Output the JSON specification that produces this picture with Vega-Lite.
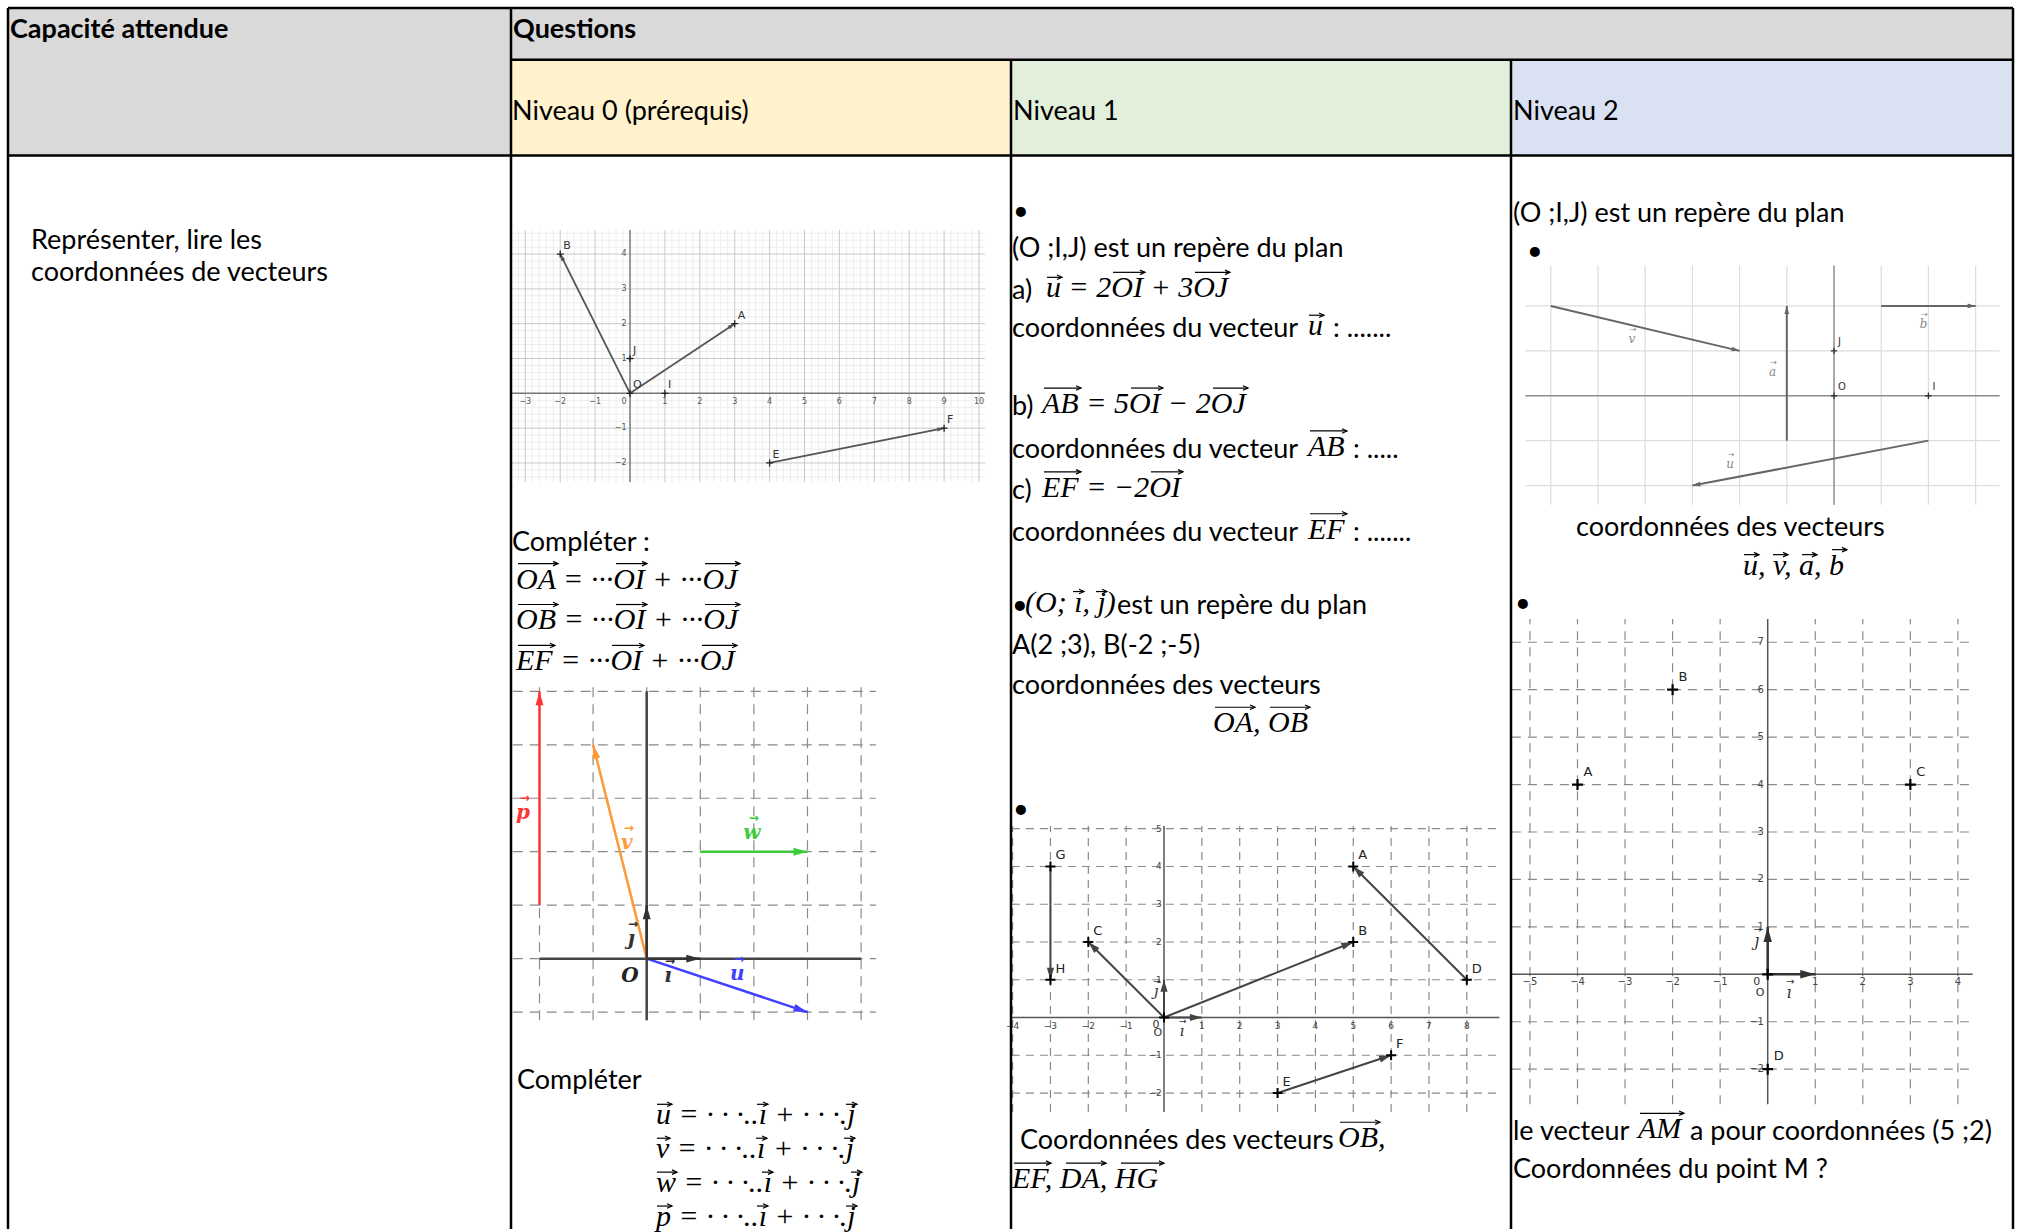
{
"$schema":"https://vega.github.io/schema/vega-lite/v6.json",
"width":2017,"height":1232,
"autosize":{"type":"fit","contains":"padding"},
"padding":0,
"background":"white",
"config":{"view":{"stroke":null},"text":{"baseline":"middle","align":"left"}},
"datasets":{
"cells":[{"x":8,"x2":511,"y":8,"y2":156,"part":"head"},{"x":511,"x2":2013,"y":8,"y2":60,"part":"head"},{"x":511,"x2":1011,"y":60,"y2":156,"part":"n0"},{"x":1011,"x2":1511,"y":60,"y2":156,"part":"n1"},{"x":1511,"x2":2013,"y":60,"y2":156,"part":"n2"}],
"borders":[{"x":8,"y":8,"x2":2013,"y2":8},{"x":511,"y":60,"x2":2013,"y2":60},{"x":8,"y":156,"x2":2013,"y2":156},{"x":8,"y":8,"x2":8,"y2":1232},{"x":511,"y":8,"x2":511,"y2":1232},{"x":1011,"y":60,"x2":1011,"y2":1232},{"x":1511,"y":60,"x2":1511,"y2":1232},{"x":2013,"y":8,"x2":2013,"y2":1232}],
"bold":[{"x":10,"y":27,"t":"Capacité attendue"},{"x":513,"y":27,"t":"Questions"}],
"txt":[
{"x":31,"y":239,"t":"Représenter, lire les"},
{"x":31,"y":271,"t":"coordonnées de vecteurs"},
{"x":512,"y":109,"t":"Niveau 0 (prérequis)"},
{"x":1013,"y":109,"t":"Niveau 1"},
{"x":1513,"y":109,"t":"Niveau 2"},
{"x":512,"y":541,"t":"Compléter :"},
{"x":517,"y":1081,"t":"Compléter"},
{"x":1013,"y":210,"t":"•"},
{"x":1012,"y":247,"t":"(O ;I,J) est un repère du plan"},
{"x":1012,"y":289,"t":"a)"},
{"x":1012,"y":327,"t":"coordonnées du vecteur"},
{"x":1333,"y":327,"t":": ......."},
{"x":1012,"y":405,"t":"b)"},
{"x":1012,"y":448,"t":"coordonnées du vecteur"},
{"x":1353,"y":448,"t":": ....."},
{"x":1012,"y":489,"t":"c)"},
{"x":1012,"y":531,"t":"coordonnées du vecteur"},
{"x":1353,"y":531,"t":": ......."},
{"x":1012,"y":604,"t":"•"},
{"x":1117,"y":604,"t":"est un repère du plan"},
{"x":1012,"y":645,"t":"A(2 ;3), B(-2 ;-5)"},
{"x":1012,"y":685,"t":"coordonnées des vecteurs"},
{"x":1013,"y":809,"t":"•"},
{"x":1020,"y":1141,"t":"Coordonnées des vecteurs"},
{"x":1513,"y":212,"t":"(O ;I,J) est un repère du plan"},
{"x":1527,"y":250,"t":"•"},
{"x":1576,"y":526,"t":"coordonnées des vecteurs"},
{"x":1515,"y":602,"t":"•"},
{"x":1513,"y":1132,"t":"le vecteur"},
{"x":1690,"y":1132,"t":"a pour coordonnées (5 ;2)"},
{"x":1513,"y":1170,"t":"Coordonnées du point M ?"}],
"math":[
{"x":516,"y":581,"t":"OA = ···OI + ···OJ"},
{"x":516,"y":622,"t":"OB = ···OI + ···OJ"},
{"x":516,"y":663,"t":"EF = ···OI + ···OJ"},
{"x":656,"y":1118,"t":"u = · · ·..ı + · · ·.j"},
{"x":656,"y":1152,"t":"v = · · ·..ı + · · ·.j"},
{"x":656,"y":1186,"t":"w = · · ·..ı + · · ·.j"},
{"x":656,"y":1220,"t":"p = · · ·..ı + · · ·.j"},
{"x":1046,"y":289,"t":"u = 2OI + 3OJ"},
{"x":1308,"y":327,"t":"u"},
{"x":1042,"y":405,"t":"AB = 5OI − 2OJ"},
{"x":1308,"y":448,"t":"AB"},
{"x":1042,"y":489,"t":"EF = −2OI"},
{"x":1308,"y":531,"t":"EF"},
{"x":1025,"y":604,"t":"(O; ı, j)"},
{"x":1213,"y":725,"t":"OA, OB"},
{"x":1338,"y":1141,"t":"OB,"},
{"x":1012,"y":1182,"t":"EF, DA, HG"},
{"x":1743,"y":567,"t":"u, v, a, b"},
{"x":1638,"y":1132,"t":"AM"}],
"ovec":[
{"x":518,"x2":558,"y":565},{"x":616,"x2":647,"y":565},{"x":705,"x2":740,"y":565},
{"x":518,"x2":558,"y":606},{"x":616,"x2":647,"y":606},{"x":705,"x2":740,"y":606},
{"x":518,"x2":555,"y":647},{"x":612,"x2":644,"y":647},{"x":702,"x2":737,"y":647},
{"x":657,"x2":672,"y":1107},{"x":757,"x2":768,"y":1107},{"x":846,"x2":857,"y":1107},
{"x":657,"x2":670,"y":1141},{"x":756,"x2":767,"y":1141},{"x":844,"x2":855,"y":1141},
{"x":657,"x2":677,"y":1175},{"x":762,"x2":773,"y":1175},{"x":851,"x2":862,"y":1175},
{"x":657,"x2":672,"y":1209},{"x":757,"x2":768,"y":1209},{"x":846,"x2":857,"y":1209},
{"x":1047,"x2":1062,"y":278},{"x":1113,"x2":1145,"y":273},{"x":1195,"x2":1230,"y":273},
{"x":1309,"x2":1324,"y":316},
{"x":1044,"x2":1081,"y":389},{"x":1131,"x2":1163,"y":389},{"x":1213,"x2":1248,"y":389},
{"x":1310,"x2":1347,"y":432},
{"x":1044,"x2":1081,"y":473},{"x":1151,"x2":1183,"y":473},
{"x":1310,"x2":1347,"y":515},
{"x":1073,"x2":1084,"y":593},{"x":1096,"x2":1107,"y":593},
{"x":1215,"x2":1255,"y":709},{"x":1270,"x2":1310,"y":709},
{"x":1340,"x2":1380,"y":1125},
{"x":1014,"x2":1051,"y":1166},{"x":1066,"x2":1106,"y":1166},{"x":1121,"x2":1164,"y":1166},
{"x":1744,"x2":1759,"y":556},{"x":1773,"x2":1788,"y":556},{"x":1802,"x2":1817,"y":556},{"x":1832,"x2":1847,"y":551},
{"x":1640,"x2":1684,"y":1116}],
"g1mv":[{"x":-3.4,"y":-2.55,"y2":4.69},{"x":-3.2,"y":-2.55,"y2":4.69},{"x":-2.8,"y":-2.55,"y2":4.69},{"x":-2.6,"y":-2.55,"y2":4.69},{"x":-2.4,"y":-2.55,"y2":4.69},{"x":-2.2,"y":-2.55,"y2":4.69},{"x":-1.8,"y":-2.55,"y2":4.69},{"x":-1.6,"y":-2.55,"y2":4.69},{"x":-1.4,"y":-2.55,"y2":4.69},{"x":-1.2,"y":-2.55,"y2":4.69},{"x":-0.8,"y":-2.55,"y2":4.69},{"x":-0.6,"y":-2.55,"y2":4.69},{"x":-0.4,"y":-2.55,"y2":4.69},{"x":-0.2,"y":-2.55,"y2":4.69},{"x":0.2,"y":-2.55,"y2":4.69},{"x":0.4,"y":-2.55,"y2":4.69},{"x":0.6,"y":-2.55,"y2":4.69},{"x":0.8,"y":-2.55,"y2":4.69},{"x":1.2,"y":-2.55,"y2":4.69},{"x":1.4,"y":-2.55,"y2":4.69},{"x":1.6,"y":-2.55,"y2":4.69},{"x":1.8,"y":-2.55,"y2":4.69},{"x":2.2,"y":-2.55,"y2":4.69},{"x":2.4,"y":-2.55,"y2":4.69},{"x":2.6,"y":-2.55,"y2":4.69},{"x":2.8,"y":-2.55,"y2":4.69},{"x":3.2,"y":-2.55,"y2":4.69},{"x":3.4,"y":-2.55,"y2":4.69},{"x":3.6,"y":-2.55,"y2":4.69},{"x":3.8,"y":-2.55,"y2":4.69},{"x":4.2,"y":-2.55,"y2":4.69},{"x":4.4,"y":-2.55,"y2":4.69},{"x":4.6,"y":-2.55,"y2":4.69},{"x":4.8,"y":-2.55,"y2":4.69},{"x":5.2,"y":-2.55,"y2":4.69},{"x":5.4,"y":-2.55,"y2":4.69},{"x":5.6,"y":-2.55,"y2":4.69},{"x":5.8,"y":-2.55,"y2":4.69},{"x":6.2,"y":-2.55,"y2":4.69},{"x":6.4,"y":-2.55,"y2":4.69},{"x":6.6,"y":-2.55,"y2":4.69},{"x":6.8,"y":-2.55,"y2":4.69},{"x":7.2,"y":-2.55,"y2":4.69},{"x":7.4,"y":-2.55,"y2":4.69},{"x":7.6,"y":-2.55,"y2":4.69},{"x":7.8,"y":-2.55,"y2":4.69},{"x":8.2,"y":-2.55,"y2":4.69},{"x":8.4,"y":-2.55,"y2":4.69},{"x":8.6,"y":-2.55,"y2":4.69},{"x":8.8,"y":-2.55,"y2":4.69},{"x":9.2,"y":-2.55,"y2":4.69},{"x":9.4,"y":-2.55,"y2":4.69},{"x":9.6,"y":-2.55,"y2":4.69},{"x":9.8,"y":-2.55,"y2":4.69}],
"g1mh":[{"y":-2.4,"x":-3.43,"x2":10.17},{"y":-2.2,"x":-3.43,"x2":10.17},{"y":-1.8,"x":-3.43,"x2":10.17},{"y":-1.6,"x":-3.43,"x2":10.17},{"y":-1.4,"x":-3.43,"x2":10.17},{"y":-1.2,"x":-3.43,"x2":10.17},{"y":-0.8,"x":-3.43,"x2":10.17},{"y":-0.6,"x":-3.43,"x2":10.17},{"y":-0.4,"x":-3.43,"x2":10.17},{"y":-0.2,"x":-3.43,"x2":10.17},{"y":0.2,"x":-3.43,"x2":10.17},{"y":0.4,"x":-3.43,"x2":10.17},{"y":0.6,"x":-3.43,"x2":10.17},{"y":0.8,"x":-3.43,"x2":10.17},{"y":1.2,"x":-3.43,"x2":10.17},{"y":1.4,"x":-3.43,"x2":10.17},{"y":1.6,"x":-3.43,"x2":10.17},{"y":1.8,"x":-3.43,"x2":10.17},{"y":2.2,"x":-3.43,"x2":10.17},{"y":2.4,"x":-3.43,"x2":10.17},{"y":2.6,"x":-3.43,"x2":10.17},{"y":2.8,"x":-3.43,"x2":10.17},{"y":3.2,"x":-3.43,"x2":10.17},{"y":3.4,"x":-3.43,"x2":10.17},{"y":3.6,"x":-3.43,"x2":10.17},{"y":3.8,"x":-3.43,"x2":10.17},{"y":4.2,"x":-3.43,"x2":10.17},{"y":4.4,"x":-3.43,"x2":10.17},{"y":4.6,"x":-3.43,"x2":10.17}],
"g1v":[{"x":-3,"y":-2.55,"y2":4.69},{"x":-2,"y":-2.55,"y2":4.69},{"x":-1,"y":-2.55,"y2":4.69},{"x":1,"y":-2.55,"y2":4.69},{"x":2,"y":-2.55,"y2":4.69},{"x":3,"y":-2.55,"y2":4.69},{"x":4,"y":-2.55,"y2":4.69},{"x":5,"y":-2.55,"y2":4.69},{"x":6,"y":-2.55,"y2":4.69},{"x":7,"y":-2.55,"y2":4.69},{"x":8,"y":-2.55,"y2":4.69},{"x":9,"y":-2.55,"y2":4.69},{"x":10,"y":-2.55,"y2":4.69}],
"g1h":[{"y":-2,"x":-3.43,"x2":10.17},{"y":-1,"x":-3.43,"x2":10.17},{"y":1,"x":-3.43,"x2":10.17},{"y":2,"x":-3.43,"x2":10.17},{"y":3,"x":-3.43,"x2":10.17},{"y":4,"x":-3.43,"x2":10.17}],
"g1ax":[{"x":-3.43,"y":0,"x2":10.17,"y2":0},{"x":0,"y":-2.55,"x2":0,"y2":4.69}],
"g1vec":[{"x":0,"y":0,"x2":3,"y2":2},{"x":0,"y":0,"x2":-2,"y2":4},{"x":4,"y":-2,"x2":9,"y2":-1}],
"g1pts":[{"x":0,"y":0,"n":"O"},{"x":1,"y":0,"n":"I"},{"x":0,"y":1,"n":"J"},{"x":3,"y":2,"n":"A"},{"x":-2,"y":4,"n":"B"},{"x":4,"y":-2,"n":"E"},{"x":9,"y":-1,"n":"F"}],
"g1tx":[{"x":-3,"y":-0.12,"t":"−3"},{"x":-2,"y":-0.12,"t":"−2"},{"x":-1,"y":-0.12,"t":"−1"},{"x":-0.17,"y":-0.12,"t":"0"},{"x":1,"y":-0.12,"t":"1"},{"x":2,"y":-0.12,"t":"2"},{"x":3,"y":-0.12,"t":"3"},{"x":4,"y":-0.12,"t":"4"},{"x":5,"y":-0.12,"t":"5"},{"x":6,"y":-0.12,"t":"6"},{"x":7,"y":-0.12,"t":"7"},{"x":8,"y":-0.12,"t":"8"},{"x":9,"y":-0.12,"t":"9"},{"x":10,"y":-0.12,"t":"10"}],
"g1ty":[{"x":-0.1,"y":4,"t":"4"},{"x":-0.1,"y":3,"t":"3"},{"x":-0.1,"y":2,"t":"2"},{"x":-0.1,"y":1,"t":"1"},{"x":-0.1,"y":-1,"t":"−1"},{"x":-0.1,"y":-2,"t":"−2"}],
"g2v":[{"x":-2,"y":-1.15,"y2":5.1},{"x":-1,"y":-1.15,"y2":5.1},{"x":0,"y":-1.15,"y2":5.1},{"x":1,"y":-1.15,"y2":5.1},{"x":2,"y":-1.15,"y2":5.1},{"x":3,"y":-1.15,"y2":5.1},{"x":4,"y":-1.15,"y2":5.1}],
"g2h":[{"y":-1,"x":-2.5,"x2":4.28},{"y":0,"x":-2.5,"x2":4.28},{"y":1,"x":-2.5,"x2":4.28},{"y":2,"x":-2.5,"x2":4.28},{"y":3,"x":-2.5,"x2":4.28},{"y":4,"x":-2.5,"x2":4.28},{"y":5,"x":-2.5,"x2":4.28}],
"g2ax":[{"x":-2,"y":0,"x2":4,"y2":0},{"x":0,"y":-1.15,"x2":0,"y2":5}],
"g2vec":[{"x":-2,"y":1,"x2":-2,"y2":5,"n":"p"},{"x":0,"y":0,"x2":-1,"y2":4,"n":"v"},{"x":1,"y":2,"x2":3,"y2":2,"n":"w"},{"x":0,"y":0,"x2":3,"y2":-1,"n":"u"},{"x":0,"y":0,"x2":1,"y2":0,"n":"i"},{"x":0,"y":0,"x2":0,"y2":1,"n":"j"}],
"g2lab":[{"x":-2.31,"y":2.72,"t":"p","n":"p"},{"x":-0.37,"y":2.16,"t":"v","n":"v"},{"x":1.96,"y":2.35,"t":"w","n":"w"},{"x":1.69,"y":-0.29,"t":"u","n":"u"},{"x":-0.29,"y":0.36,"t":"ȷ","n":"j"},{"x":0.4,"y":-0.32,"t":"ı","n":"i"}],
"g2o":[{"x":-0.31,"y":-0.32,"t":"O"}],
"g3v":[{"x":-4,"y":-2.5,"y2":5.07},{"x":-3,"y":-2.5,"y2":5.07},{"x":-2,"y":-2.5,"y2":5.07},{"x":-1,"y":-2.5,"y2":5.07},{"x":1,"y":-2.5,"y2":5.07},{"x":2,"y":-2.5,"y2":5.07},{"x":3,"y":-2.5,"y2":5.07},{"x":4,"y":-2.5,"y2":5.07},{"x":5,"y":-2.5,"y2":5.07},{"x":6,"y":-2.5,"y2":5.07},{"x":7,"y":-2.5,"y2":5.07},{"x":8,"y":-2.5,"y2":5.07}],
"g3h":[{"y":-2,"x":-4.02,"x2":8.86},{"y":-1,"x":-4.02,"x2":8.86},{"y":1,"x":-4.02,"x2":8.86},{"y":2,"x":-4.02,"x2":8.86},{"y":3,"x":-4.02,"x2":8.86},{"y":4,"x":-4.02,"x2":8.86},{"y":5,"x":-4.02,"x2":8.86}],
"g3ax":[{"x":-4.02,"y":0,"x2":8.86,"y2":0},{"x":0,"y":-2.5,"x2":0,"y2":5.07}],
"g3vec":[{"x":0,"y":0,"x2":5,"y2":2},{"x":0,"y":0,"x2":-2,"y2":2},{"x":8,"y":1,"x2":5,"y2":4},{"x":3,"y":-2,"x2":6,"y2":-1},{"x":-3,"y":4,"x2":-3,"y2":1},{"x":0,"y":0,"x2":1,"y2":0},{"x":0,"y":0,"x2":0,"y2":1}],
"g3pts":[{"x":5,"y":4,"n":"A"},{"x":5,"y":2,"n":"B"},{"x":-2,"y":2,"n":"C"},{"x":8,"y":1,"n":"D"},{"x":3,"y":-2,"n":"E"},{"x":6,"y":-1,"n":"F"},{"x":-3,"y":4,"n":"G"},{"x":-3,"y":1,"n":"H"},{"x":0,"y":0,"n":""}],
"g3tx":[{"x":-4,"y":-0.22,"t":"−4"},{"x":-3,"y":-0.22,"t":"−3"},{"x":-2,"y":-0.22,"t":"−2"},{"x":-1,"y":-0.22,"t":"−1"},{"x":1,"y":-0.22,"t":"1"},{"x":2,"y":-0.22,"t":"2"},{"x":3,"y":-0.22,"t":"3"},{"x":4,"y":-0.22,"t":"4"},{"x":5,"y":-0.22,"t":"5"},{"x":6,"y":-0.22,"t":"6"},{"x":7,"y":-0.22,"t":"7"},{"x":8,"y":-0.22,"t":"8"}],
"g3ty":[{"x":-0.06,"y":5,"t":"5"},{"x":-0.06,"y":4,"t":"4"},{"x":-0.06,"y":3,"t":"3"},{"x":-0.06,"y":2,"t":"2"},{"x":-0.06,"y":1,"t":"1"},{"x":-0.06,"y":-1,"t":"−1"},{"x":-0.06,"y":-2,"t":"−2"}],
"g3misc":[{"x":-0.21,"y":-0.19,"t":"0"},{"x":-0.16,"y":-0.42,"t":"O"}],
"g3math":[{"x":0.47,"y":-0.35,"t":"ı"},{"x":-0.21,"y":0.71,"t":"ȷ"}],
"g4v":[{"x":-6,"y":-2.43,"y2":2.9},{"x":-5,"y":-2.43,"y2":2.9},{"x":-4,"y":-2.43,"y2":2.9},{"x":-3,"y":-2.43,"y2":2.9},{"x":-2,"y":-2.43,"y2":2.9},{"x":-1,"y":-2.43,"y2":2.9},{"x":1,"y":-2.43,"y2":2.9},{"x":2,"y":-2.43,"y2":2.9},{"x":3,"y":-2.43,"y2":2.9}],
"g4h":[{"y":-2,"x":-6.54,"x2":3.51},{"y":-1,"x":-6.54,"x2":3.51},{"y":1,"x":-6.54,"x2":3.51},{"y":2,"x":-6.54,"x2":3.51}],
"g4ax":[{"x":-6.54,"y":0,"x2":3.51,"y2":0},{"x":0,"y":-2.43,"x2":0,"y2":2.9}],
"g4vec":[{"x":-6,"y":2,"x2":-2,"y2":1},{"x":-1,"y":-1,"x2":-1,"y2":2},{"x":1,"y":2,"x2":3,"y2":2},{"x":2,"y":-1,"x2":-3,"y2":-2}],
"g4pts":[{"x":0,"y":0,"n":"O"},{"x":0,"y":1,"n":"J"},{"x":2,"y":0,"n":"I"}],
"g4lab":[{"x":-4.28,"y":1.27,"t":"v"},{"x":-1.3,"y":0.52,"t":"a"},{"x":1.9,"y":1.59,"t":"b"},{"x":-2.2,"y":-1.52,"t":"u"}],
"g5v":[{"x":-5,"y":-2.74,"y2":7.49},{"x":-4,"y":-2.74,"y2":7.49},{"x":-3,"y":-2.74,"y2":7.49},{"x":-2,"y":-2.74,"y2":7.49},{"x":-1,"y":-2.74,"y2":7.49},{"x":1,"y":-2.74,"y2":7.49},{"x":2,"y":-2.74,"y2":7.49},{"x":3,"y":-2.74,"y2":7.49},{"x":4,"y":-2.74,"y2":7.49}],
"g5h":[{"y":-2,"x":-5.38,"x2":4.31},{"y":-1,"x":-5.38,"x2":4.31},{"y":1,"x":-5.38,"x2":4.31},{"y":2,"x":-5.38,"x2":4.31},{"y":3,"x":-5.38,"x2":4.31},{"y":4,"x":-5.38,"x2":4.31},{"y":5,"x":-5.38,"x2":4.31},{"y":6,"x":-5.38,"x2":4.31},{"y":7,"x":-5.38,"x2":4.31}],
"g5ax":[{"x":-5.38,"y":0,"x2":4.31,"y2":0},{"x":0,"y":-2.74,"x2":0,"y2":7.49}],
"g5vec":[{"x":0,"y":0,"x2":1,"y2":0},{"x":0,"y":0,"x2":0,"y2":1}],
"g5pts":[{"x":-4,"y":4,"n":"A"},{"x":-2,"y":6,"n":"B"},{"x":3,"y":4,"n":"C"},{"x":0,"y":-2,"n":"D"},{"x":0,"y":0,"n":""}],
"g5tx":[{"x":-5,"y":-0.17,"t":"−5"},{"x":-4,"y":-0.17,"t":"−4"},{"x":-3,"y":-0.17,"t":"−3"},{"x":-2,"y":-0.17,"t":"−2"},{"x":-1,"y":-0.17,"t":"−1"},{"x":1,"y":-0.17,"t":"1"},{"x":2,"y":-0.17,"t":"2"},{"x":3,"y":-0.17,"t":"3"},{"x":4,"y":-0.17,"t":"4"}],
"g5ty":[{"x":-0.08,"y":7,"t":"7"},{"x":-0.08,"y":6,"t":"6"},{"x":-0.08,"y":5,"t":"5"},{"x":-0.08,"y":4,"t":"4"},{"x":-0.08,"y":3,"t":"3"},{"x":-0.08,"y":2,"t":"2"},{"x":-0.08,"y":1,"t":"1"},{"x":-0.08,"y":-1,"t":"−1"},{"x":-0.08,"y":-2,"t":"−2"}],
"g5misc":[{"x":-0.23,"y":-0.17,"t":"0"},{"x":-0.16,"y":-0.4,"t":"O"}],
"g5math":[{"x":0.45,"y":-0.39,"t":"ı"},{"x":-0.23,"y":0.7,"t":"ȷ"}]
},
"layer":[
{"data":{"name":"cells"},"mark":{"type":"rect","opacity":1},"encoding":{
 "x":{"field":"x","type":"quantitative","scale":{"domain":[0,2017],"nice":false,"zero":false},"axis":null},"x2":{"field":"x2"},
 "y":{"field":"y","type":"quantitative","scale":{"domain":[0,1232],"nice":false,"zero":false,"reverse":true},"axis":null},"y2":{"field":"y2"},
 "color":{"field":"part","type":"nominal","scale":{"domain":["head","n0","n1","n2"],"range":["#D9D9D9","#FFF2CC","#E2EFDA","#D9E1F2"]},"legend":null}}},
{"encoding":{"x":{"field":"x","type":"quantitative","scale":{"domain":[-18.052,39.742],"nice":false,"zero":false},"axis":null},"y":{"field":"y","type":"quantitative","scale":{"domain":[-24.003,11.298],"nice":false,"zero":false},"axis":null}},
 "layer":[
 {"data":{"name":"g1mv"},"mark":{"type":"rule","color":"#ededed","strokeWidth":1},"encoding":{"y2":{"field":"y2"}}},
 {"data":{"name":"g1mh"},"mark":{"type":"rule","color":"#ededed","strokeWidth":1},"encoding":{"x2":{"field":"x2"}}},
 {"data":{"name":"g1v"},"mark":{"type":"rule","color":"#c9c9c9","strokeWidth":1},"encoding":{"y2":{"field":"y2"}}},
 {"data":{"name":"g1h"},"mark":{"type":"rule","color":"#c9c9c9","strokeWidth":1},"encoding":{"x2":{"field":"x2"}}},
 {"data":{"name":"g1ax"},"mark":{"type":"rule","color":"#777777","strokeWidth":1.5},"encoding":{"x2":{"field":"x2"},"y2":{"field":"y2"}}},
 {"data":{"name":"g1vec"},"mark":{"type":"rule","color":"#555555","strokeWidth":1.8},"encoding":{"x2":{"field":"x2"},"y2":{"field":"y2"}}},
 {"data":{"name":"g1vec"},"mark":{"type":"point","shape":"M0,0L0.3,1L-0.3,1Z","filled":true,"color":"#555555","opacity":1,"size":196,"angle":{"expr":"atan2(datum.x2-datum.x,datum.y2-datum.y)*180/PI"}},"encoding":{"x":{"field":"x2","type":"quantitative"},"y":{"field":"y2","type":"quantitative"}}},
 {"data":{"name":"g1pts"},"mark":{"type":"point","shape":"M-1,0L1,0M0,-1L0,1","filled":false,"color":"#222222","opacity":1,"strokeWidth":1.3,"size":49}},
 {"data":{"name":"g1pts"},"mark":{"type":"text","font":"DejaVu Sans","fontSize":11,"color":"#333333","dx":3,"dy":-8},"encoding":{"text":{"field":"n","type":"nominal"}}},
 {"data":{"name":"g1tx"},"mark":{"type":"text","font":"DejaVu Sans","fontSize":8,"color":"#555555","align":"center","baseline":"top"},"encoding":{"text":{"field":"t","type":"nominal"}}},
 {"data":{"name":"g1ty"},"mark":{"type":"text","font":"DejaVu Sans","fontSize":8,"color":"#555555","align":"right"},"encoding":{"text":{"field":"t","type":"nominal"}}}
 ]},
{"encoding":{"x":{"field":"x","type":"quantitative","scale":{"domain":[-12.065,25.565],"nice":false,"zero":false},"axis":null},"y":{"field":"y","type":"quantitative","scale":{"domain":[-5.056,17.929],"nice":false,"zero":false},"axis":null}},
 "layer":[
 {"data":{"name":"g2v"},"mark":{"type":"rule","color":"#8a8a8a","strokeWidth":1.2,"strokeDash":[10,7]},"encoding":{"y2":{"field":"y2"}}},
 {"data":{"name":"g2h"},"mark":{"type":"rule","color":"#8a8a8a","strokeWidth":1.2,"strokeDash":[10,7]},"encoding":{"x2":{"field":"x2"}}},
 {"data":{"name":"g2ax"},"mark":{"type":"rule","color":"#444444","strokeWidth":2.5},"encoding":{"x2":{"field":"x2"},"y2":{"field":"y2"}}},
 {"data":{"name":"g2vec"},"mark":{"type":"rule","strokeWidth":2.5},"encoding":{"x2":{"field":"x2"},"y2":{"field":"y2"},"color":{"field":"n","type":"nominal","scale":{"domain":["p","v","w","u","i","j"],"range":["#FF3535","#FF9A35","#3CCB3C","#4040FF","#333333","#333333"]},"legend":null}}},
 {"data":{"name":"g2vec"},"mark":{"type":"point","shape":"M0,0L0.28,1L-0.28,1Z","filled":true,"opacity":1,"size":784,"angle":{"expr":"atan2(datum.x2-datum.x,datum.y2-datum.y)*180/PI"}},"encoding":{"x":{"field":"x2","type":"quantitative"},"y":{"field":"y2","type":"quantitative"},"color":{"field":"n","type":"nominal","legend":null}}},
 {"data":{"name":"g2lab"},"mark":{"type":"text","font":"DejaVu Serif","fontSize":20,"fontStyle":"italic","fontWeight":"bold","align":"center"},"encoding":{"text":{"field":"t","type":"nominal"},"color":{"field":"n","type":"nominal","legend":null}}},
 {"data":{"name":"g2lab"},"mark":{"type":"text","font":"DejaVu Sans","fontSize":12,"fontWeight":"bold","align":"center","dx":2,"dy":-15,"text":"→"},"encoding":{"color":{"field":"n","type":"nominal","legend":null}}},
 {"data":{"name":"g2o"},"mark":{"type":"text","font":"DejaVu Serif","fontSize":20,"fontStyle":"italic","fontWeight":"bold","align":"center","color":"#222222"},"encoding":{"text":{"field":"t","type":"nominal"}}}
 ]},
{"encoding":{"x":{"field":"x","type":"quantitative","scale":{"domain":[-30.753,22.536],"nice":false,"zero":false},"axis":null},"y":{"field":"y","type":"quantitative","scale":{"domain":[-5.601,26.948],"nice":false,"zero":false},"axis":null}},
 "layer":[
 {"data":{"name":"g3v"},"mark":{"type":"rule","color":"#8a8a8a","strokeWidth":1.2,"strokeDash":[8,6]},"encoding":{"y2":{"field":"y2"}}},
 {"data":{"name":"g3h"},"mark":{"type":"rule","color":"#8a8a8a","strokeWidth":1.2,"strokeDash":[8,6]},"encoding":{"x2":{"field":"x2"}}},
 {"data":{"name":"g3ax"},"mark":{"type":"rule","color":"#555555","strokeWidth":1.5},"encoding":{"x2":{"field":"x2"},"y2":{"field":"y2"}}},
 {"data":{"name":"g3vec"},"mark":{"type":"rule","color":"#444444","strokeWidth":2},"encoding":{"x2":{"field":"x2"},"y2":{"field":"y2"}}},
 {"data":{"name":"g3vec"},"mark":{"type":"point","shape":"M0,0L0.3,1L-0.3,1Z","filled":true,"color":"#444444","opacity":1,"size":576,"angle":{"expr":"atan2(datum.x2-datum.x,datum.y2-datum.y)*180/PI"}},"encoding":{"x":{"field":"x2","type":"quantitative"},"y":{"field":"y2","type":"quantitative"}}},
 {"data":{"name":"g3pts"},"mark":{"type":"point","shape":"M-1,0L1,0M0,-1L0,1","filled":false,"color":"#000000","opacity":1,"strokeWidth":2,"size":100}},
 {"data":{"name":"g3pts"},"mark":{"type":"text","font":"DejaVu Sans","fontSize":13,"color":"#222222","dx":5,"dy":-11},"encoding":{"text":{"field":"n","type":"nominal"}}},
 {"data":{"name":"g3tx"},"mark":{"type":"text","font":"DejaVu Sans","fontSize":9,"color":"#444444","align":"center"},"encoding":{"text":{"field":"t","type":"nominal"}}},
 {"data":{"name":"g3ty"},"mark":{"type":"text","font":"DejaVu Sans","fontSize":9,"color":"#444444","align":"right"},"encoding":{"text":{"field":"t","type":"nominal"}}},
 {"data":{"name":"g3misc"},"mark":{"type":"text","font":"DejaVu Sans","fontSize":11,"color":"#333333","align":"center"},"encoding":{"text":{"field":"t","type":"nominal"}}},
 {"data":{"name":"g3math"},"mark":{"type":"text","font":"DejaVu Serif","fontSize":15,"fontStyle":"italic","color":"#333333","align":"center"},"encoding":{"text":{"field":"t","type":"nominal"}}},
 {"data":{"name":"g3math"},"mark":{"type":"text","font":"DejaVu Sans","fontSize":9,"color":"#333333","align":"center","dx":1,"dy":-10,"text":"→"}}
 ]},
{"encoding":{"x":{"field":"x","type":"quantitative","scale":{"domain":[-38.856,3.877],"nice":false,"zero":false},"axis":null},"y":{"field":"y","type":"quantitative","scale":{"domain":[-18.562,8.816],"nice":false,"zero":false},"axis":null}},
 "layer":[
 {"data":{"name":"g4v"},"mark":{"type":"rule","color":"#dddddd","strokeWidth":1.2},"encoding":{"y2":{"field":"y2"}}},
 {"data":{"name":"g4h"},"mark":{"type":"rule","color":"#dddddd","strokeWidth":1.2},"encoding":{"x2":{"field":"x2"}}},
 {"data":{"name":"g4ax"},"mark":{"type":"rule","color":"#8c8c8c","strokeWidth":1.5},"encoding":{"x2":{"field":"x2"},"y2":{"field":"y2"}}},
 {"data":{"name":"g4vec"},"mark":{"type":"rule","color":"#666666","strokeWidth":2},"encoding":{"x2":{"field":"x2"},"y2":{"field":"y2"}}},
 {"data":{"name":"g4vec"},"mark":{"type":"point","shape":"M0,0L0.3,1L-0.3,1Z","filled":true,"color":"#666666","opacity":1,"size":256,"angle":{"expr":"atan2((datum.x2-datum.x)*47.2,(datum.y2-datum.y)*45)*180/PI"}},"encoding":{"x":{"field":"x2","type":"quantitative"},"y":{"field":"y2","type":"quantitative"}}},
 {"data":{"name":"g4pts"},"mark":{"type":"point","shape":"M-1,0L1,0M0,-1L0,1","filled":false,"color":"#333333","opacity":1,"strokeWidth":1.3,"size":40}},
 {"data":{"name":"g4pts"},"mark":{"type":"text","font":"DejaVu Sans","fontSize":10,"color":"#333333","dx":4,"dy":-9},"encoding":{"text":{"field":"n","type":"nominal"}}},
 {"data":{"name":"g4lab"},"mark":{"type":"text","font":"DejaVu Serif","fontSize":12,"fontStyle":"italic","color":"#888888","align":"center"},"encoding":{"text":{"field":"t","type":"nominal"}}},
 {"data":{"name":"g4lab"},"mark":{"type":"text","font":"DejaVu Sans","fontSize":8,"color":"#888888","align":"center","dx":1,"dy":-9,"text":"→"}}
 ]},
{"encoding":{"x":{"field":"x","type":"quantitative","scale":{"domain":[-37.176,5.243],"nice":false,"zero":false},"axis":null},"y":{"field":"y","type":"quantitative","scale":{"domain":[-5.369,20.54],"nice":false,"zero":false},"axis":null}},
 "layer":[
 {"data":{"name":"g5v"},"mark":{"type":"rule","color":"#8a8a8a","strokeWidth":1.2,"strokeDash":[9,7]},"encoding":{"y2":{"field":"y2"}}},
 {"data":{"name":"g5h"},"mark":{"type":"rule","color":"#8a8a8a","strokeWidth":1.2,"strokeDash":[9,7]},"encoding":{"x2":{"field":"x2"}}},
 {"data":{"name":"g5ax"},"mark":{"type":"rule","color":"#555555","strokeWidth":1.5},"encoding":{"x2":{"field":"x2"},"y2":{"field":"y2"}}},
 {"data":{"name":"g5vec"},"mark":{"type":"rule","color":"#333333","strokeWidth":2.5},"encoding":{"x2":{"field":"x2"},"y2":{"field":"y2"}}},
 {"data":{"name":"g5vec"},"mark":{"type":"point","shape":"M0,0L0.28,1L-0.28,1Z","filled":true,"color":"#333333","opacity":1,"size":900,"angle":{"expr":"atan2(datum.x2-datum.x,datum.y2-datum.y)*180/PI"}},"encoding":{"x":{"field":"x2","type":"quantitative"},"y":{"field":"y2","type":"quantitative"}}},
 {"data":{"name":"g5pts"},"mark":{"type":"point","shape":"M-1,0L1,0M0,-1L0,1","filled":false,"color":"#000000","opacity":1,"strokeWidth":2.2,"size":120}},
 {"data":{"name":"g5pts"},"mark":{"type":"text","font":"DejaVu Sans","fontSize":13,"color":"#222222","dx":6,"dy":-13},"encoding":{"text":{"field":"n","type":"nominal"}}},
 {"data":{"name":"g5tx"},"mark":{"type":"text","font":"DejaVu Sans","fontSize":10,"color":"#444444","align":"center"},"encoding":{"text":{"field":"t","type":"nominal"}}},
 {"data":{"name":"g5ty"},"mark":{"type":"text","font":"DejaVu Sans","fontSize":10,"color":"#444444","align":"right"},"encoding":{"text":{"field":"t","type":"nominal"}}},
 {"data":{"name":"g5misc"},"mark":{"type":"text","font":"DejaVu Sans","fontSize":11,"color":"#333333","align":"center"},"encoding":{"text":{"field":"t","type":"nominal"}}},
 {"data":{"name":"g5math"},"mark":{"type":"text","font":"DejaVu Serif","fontSize":16,"fontStyle":"italic","color":"#333333","align":"center"},"encoding":{"text":{"field":"t","type":"nominal"}}},
 {"data":{"name":"g5math"},"mark":{"type":"text","font":"DejaVu Sans","fontSize":10,"color":"#333333","align":"center","dx":1,"dy":-11,"text":"→"}}
 ]},
{"encoding":{"x":{"field":"x","type":"quantitative","scale":{"domain":[0,2017],"nice":false,"zero":false},"axis":null},"y":{"field":"y","type":"quantitative","scale":{"domain":[0,1232],"nice":false,"zero":false,"reverse":true},"axis":null}},
 "layer":[
 {"data":{"name":"borders"},"mark":{"type":"rule","color":"black","strokeWidth":2.5},"encoding":{"x2":{"field":"x2"},"y2":{"field":"y2"}}},
 {"data":{"name":"bold"},"mark":{"type":"text","font":"Lato","fontSize":27,"fontWeight":"bold","color":"black","dy":3},"encoding":{"text":{"field":"t","type":"nominal"}}},
 {"data":{"name":"txt"},"mark":{"type":"text","font":"Lato","fontSize":27,"color":"black","dy":3},"encoding":{"text":{"field":"t","type":"nominal"}}},
 {"data":{"name":"math"},"mark":{"type":"text","font":"Liberation Serif","fontSize":30,"fontStyle":"italic","color":"black"},"encoding":{"text":{"field":"t","type":"nominal"}}},
 {"data":{"name":"ovec"},"mark":{"type":"rule","color":"black","strokeWidth":1.2},"encoding":{"x2":{"field":"x2"}}},
 {"data":{"name":"ovec"},"mark":{"type":"point","shape":"M-1,-0.45L0,0L-1,0.45","filled":false,"color":"black","opacity":1,"strokeWidth":1.2,"size":100},"encoding":{"x":{"field":"x2","type":"quantitative"}}}
 ]}
],
"resolve":{"scale":{"x":"independent","y":"independent","color":"independent"}}
}
